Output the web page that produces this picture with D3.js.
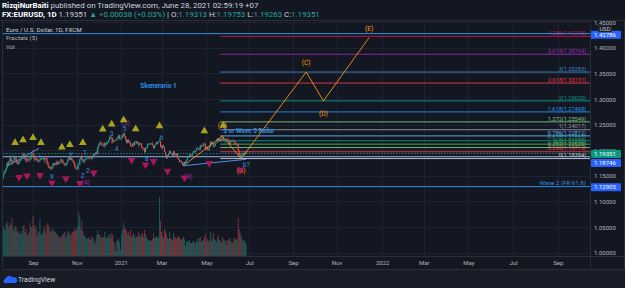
<!DOCTYPE html>
<html><head><meta charset="utf-8">
<script src="https://cdn.jsdelivr.net/npm/d3@7"></script>
<style>
html,body{margin:0;padding:0;background:#131722;}
svg{display:block;font-family:Roboto,"Liberation Sans",sans-serif;}
</style></head><body>
<svg id="chart" width="625" height="288"></svg>
<script>
// EUR/USD daily, FXCM. one value per weekday starting 2020-07-20
const START_DATE = '2020-07-20';
const closes = [
  1.1443,1.1526,1.1568,1.1595,1.1656, 1.1750,1.1716,1.1790,1.1846,1.1778,
  1.1763,1.1800,1.1850,1.1876,1.1787, 1.1737,1.1740,1.1785,1.1814,1.1842,
  1.1870,1.1930,1.1835,1.1860,1.1795, 1.1795,1.1836,1.1831,1.1822,1.1903,
  1.1935,1.1913,1.1854,1.1820,1.1838, 1.1815,1.1778,1.1802,1.1813,1.1845,
  1.1845,1.1845,1.1815,1.1845,1.1840, 1.1770,1.1702,1.1657,1.1671,1.1633,
  1.1667,1.1743,1.1720,1.1748,1.1715, 1.1781,1.1735,1.1760,1.1758,1.1825,
  1.1810,1.1745,1.1746,1.1706,1.1717, 1.1767,1.1827,1.1862,1.1812,1.1857,
  1.1809,1.1793,1.1746,1.1676,1.1644, 1.1640,1.1715,1.1720,1.1825,1.1875,
  1.1815,1.1779,1.1780,1.1830,1.1833, 1.1855,1.1862,1.1847,1.1873,1.1856,
  1.1843,1.1890,1.1925,1.1916,1.1960, 1.1927,1.2070,1.2115,1.2145,1.2120,
  1.2105,1.2105,1.2080,1.2135,1.2110, 1.2145,1.2155,1.2200,1.2268,1.2255,
  1.2240,1.2165,1.2190,1.2185,1.2190, 1.2215,1.2250,1.2295,1.2215,1.2225,
  1.2255,1.2295,1.2327,1.2270,1.2220, 1.2150,1.2205,1.2155,1.2155,1.2080,
  1.2075,1.2130,1.2105,1.2165,1.2170, 1.2140,1.2160,1.2110,1.2125,1.2135,
  1.2060,1.2040,1.2035,1.1965,1.2045, 1.2050,1.2120,1.2120,1.2130,1.2120,
  1.2130,1.2100,1.2040,1.2090,1.2120, 1.2155,1.2150,1.2165,1.2175,1.2075,
  1.2045,1.2090,1.2065,1.1970,1.1915, 1.1845,1.1900,1.1930,1.1985,1.1950,
  1.1930,1.1900,1.1975,1.1915,1.1905, 1.1935,1.1850,1.1815,1.1775,1.1795,
  1.1765,1.1715,1.1730,1.1775,1.1763, 1.1815,1.1870,1.1870,1.1915,1.1900,
  1.1910,1.1945,1.1980,1.1965,1.1985, 1.2035,1.2035,1.2035,1.2015,1.2095,
  1.2085,1.2090,1.2130,1.2125,1.2020, 1.2060,1.2015,1.2005,1.2065,1.2165,
  1.2130,1.2150,1.2075,1.2080,1.2145, 1.2155,1.2225,1.2175,1.2225,1.2180,
  1.2215,1.2250,1.2190,1.2195,1.2195, 1.2225,1.2215,1.2210,1.2125,1.2165,
  1.2190,1.2175,1.2180,1.2175,1.2105, 1.2120,1.2125,1.1995,1.1905,1.1860,
  1.1915,1.1940,1.1925,1.1935,1.1935, 1.19351
];
const highs = [
  1.1468,1.1540,1.1601,1.1627,1.1660, 1.1776,1.1780,1.1806,1.1908,1.1868,
  1.1810,1.1810,1.1916,1.1880,1.1885, 1.1810,1.1806,1.1799,1.1830,1.1865,
  1.1884,1.1966,1.1943,1.1880,1.1863, 1.1840,1.1846,1.1850,1.1900,1.1916,
  1.1947,1.2011,1.1925,1.1866,1.1855, 1.1852,1.1835,1.1830,1.1917,1.1851,
  1.1875,1.1870,1.1880,1.1850,1.1872, 1.1865,1.1780,1.1720,1.1688,1.1686,
  1.1683,1.1755,1.1754,1.1760,1.1765, 1.1800,1.1806,1.1777,1.1780,1.1831,
  1.1830,1.1818,1.1770,1.1752,1.1738, 1.1780,1.1840,1.1880,1.1870,1.1860,
  1.1861,1.1836,1.1805,1.1760,1.1681, 1.1663,1.1745,1.1770,1.1830,1.1890,
  1.1920,1.1842,1.1823,1.1835,1.1850, 1.1893,1.1895,1.1892,1.1885,1.1885,
  1.1905,1.1901,1.1941,1.1940,1.1965, 1.2003,1.2078,1.2122,1.2177,1.2172,
  1.2166,1.2145,1.2140,1.2165,1.2155, 1.2178,1.2175,1.2212,1.2273,1.2272,
  1.2250,1.2245,1.2200,1.2210,1.2198, 1.2250,1.2275,1.2310,1.2298,1.2235,
  1.2310,1.2305,1.2349,1.2345,1.2285, 1.2220,1.2210,1.2222,1.2190,1.2160,
  1.2095,1.2145,1.2155,1.2185,1.2180, 1.2190,1.2175,1.2165,1.2145,1.2150,
  1.2145,1.2076,1.2050,1.2055,1.2050, 1.2069,1.2127,1.2150,1.2135,1.2142,
  1.2145,1.2170,1.2110,1.2093,1.2144, 1.2169,1.2180,1.2180,1.2243,1.2185,
  1.2113,1.2093,1.2115,1.2070,1.1975, 1.1915,1.1907,1.1938,1.1990,1.1990,
  1.1952,1.1942,1.1985,1.1989,1.1925, 1.1942,1.1943,1.1855,1.1830,1.1800,
  1.1796,1.1770,1.1743,1.1777,1.1785, 1.1820,1.1882,1.1883,1.1927,1.1915,
  1.1935,1.1950,1.1990,1.1993,1.1995, 1.2050,1.2079,1.2044,1.2070,1.2103,
  1.2117,1.2100,1.2137,1.2150,1.2140, 1.2080,1.2075,1.2045,1.2080,1.2171,
  1.2180,1.2182,1.2151,1.2090,1.2147, 1.2168,1.2245,1.2227,1.2245,1.2240,
  1.2230,1.2266,1.2255,1.2210,1.2207, 1.2230,1.2254,1.2220,1.2215,1.2185,
  1.2198,1.2197,1.2218,1.2190,1.2180, 1.2133,1.2145,1.2135,1.2005,1.1907,
  1.1922,1.1955,1.1950,1.1955,1.1975, 1.19753
];
const lows = [
  1.1403,1.1432,1.1512,1.1540,1.1580, 1.1640,1.1699,1.1707,1.1762,1.1762,
  1.1707,1.1744,1.1784,1.1830,1.1755, 1.1728,1.1711,1.1720,1.1766,1.1790,
  1.1823,1.1860,1.1823,1.1802,1.1753, 1.1769,1.1780,1.1790,1.1762,1.1818,
  1.1878,1.1902,1.1800,1.1789,1.1780, 1.1798,1.1765,1.1752,1.1780,1.1800,
  1.1818,1.1822,1.1768,1.1737,1.1820, 1.1730,1.1687,1.1650,1.1627,1.1612,
  1.1627,1.1662,1.1685,1.1715,1.1696, 1.1708,1.1732,1.1719,1.1741,1.1750,
  1.1793,1.1738,1.1727,1.1689,1.1700, 1.1702,1.1762,1.1816,1.1803,1.1800,
  1.1800,1.1760,1.1718,1.1650,1.1622, 1.1615,1.1636,1.1603,1.1713,1.1812,
  1.1805,1.1775,1.1746,1.1750,1.1806, 1.1813,1.1830,1.1830,1.1815,1.1838,
  1.1800,1.1830,1.1880,1.1900,1.1905, 1.1920,1.1923,1.2040,1.2105,1.2090,
  1.2080,1.2096,1.2060,1.2045,1.2085, 1.2106,1.2122,1.2148,1.2196,1.2222,
  1.2130,1.2130,1.2150,1.2167,1.2178, 1.2190,1.2210,1.2244,1.2205,1.2205,
  1.2210,1.2240,1.2265,1.2250,1.2165, 1.2130,1.2131,1.2140,1.2130,1.2070,
  1.2055,1.2075,1.2063,1.2094,1.2140, 1.2117,1.2114,1.2057,1.2080,1.2107,
  1.2040,1.2004,1.2012,1.1952,1.1960, 1.2027,1.2045,1.2110,1.2100,1.2105,
  1.2108,1.2090,1.2022,1.2036,1.2082, 1.2115,1.2118,1.2110,1.2160,1.2063,
  1.2022,1.2012,1.2052,1.1960,1.1893, 1.1835,1.1837,1.1880,1.1921,1.1928,
  1.1915,1.1888,1.1885,1.1900,1.1873, 1.1889,1.1840,1.1812,1.1762,1.1770,
  1.1759,1.1704,1.1704,1.1730,1.1748, 1.1756,1.1790,1.1850,1.1862,1.1870,
  1.1868,1.1878,1.1940,1.1955,1.1945, 1.1985,1.2016,1.2005,1.1995,1.2003,
  1.2055,1.2059,1.2068,1.2108,1.2015, 1.2020,1.1999,1.1987,1.1995,1.2050,
  1.2118,1.2105,1.2050,1.2052,1.2078, 1.2128,1.2150,1.2160,1.2172,1.2160,
  1.2170,1.2203,1.2182,1.2175,1.2133, 1.2192,1.2205,1.2165,1.2105,1.2104,
  1.2155,1.2160,1.2168,1.2145,1.2093, 1.2090,1.2095,1.1985,1.1890,1.1847,
  1.1845,1.1871,1.1915,1.1905,1.1910, 1.19263
];
const volumes = [
  28,30,27,26,32, 34,30,28,33,31, 38,27,25,30,29, 24,26,23,22,25,
  22,30,31,24,27, 22,21,24,33,29, 28,40,31,27,30, 20,25,23,37,22,
  21,24,29,26,23, 31,33,29,25,24, 26,27,25,24,23, 22,21,18,19,20,
  19,22,23,24,18, 21,25,24,22,20, 23,24,25,28,26, 26,30,44,39,27,
  35,25,21,20,18, 17,18,19,17,16, 20,18,17,12,15, 21,26,22,21,19,
  18,19,18,24,19, 18,19,21,22,18, 23,21,15,12,5, 15,16,17,14,6,
  22,26,33,28,27, 25,22,24,20,26, 19,21,23,21,18, 20,19,24,21,19,
  22,23,19,26,22, 18,17,16,15,16, 15,17,23,18,19, 20,18,19,59,35,
  24,20,18,27,25, 22,18,17,24,18, 17,16,23,20,18, 17,19,20,18,17,
  16,18,19,17,10, 14,15,14,16,13, 13,14,15,14,12, 15,17,14,18,19,
  14,15,16,19,22, 15,17,14,16,24, 15,18,23,17,16, 14,18,21,16,15,
  13,19,17,15,16, 11,16,15,18,17, 14,13,15,18,17, 16,17,38,27,23,
  20,17,15,16,14, 12
];
const priceTicks = [1.00, 1.05, 1.10, 1.15, 1.20, 1.25, 1.30, 1.35, 1.40, 1.45];
const lastPrice = 1.19351;

// fib extension
const fibZero = 1.18384, fibOne = 1.24017, fibStart = '2021-05-21';
const fibLevels = [0, 0.236, 0.382, 0.5, 0.618, 0.786, 1, 1.272, 1.618, 2, 2.618, 3, 3.618, 4.236];
const fibColors = ['#d1d4dc','#f23645','#81c784','#4caf50','#089981','#64b5f6','#9598a1','#81c784','#2196f3','#089981','#f23645','#3f86c7','#9c27b0','#c2185b'];

// horizontal lines
const hLinePrices = [1.42786, 1.18746, 1.12905];
const hLineTexts = ['', '', 'Wave 2 (FR 61.8)'];

// fractals
const upFractalDates = ['2020-08-06','2020-08-18','2020-09-01','2020-09-11','2020-10-12','2020-10-22','2020-11-10','2020-12-08','2020-12-21','2021-01-06','2021-01-22','2021-02-25','2021-04-29','2021-05-26'];
const upFractalPrices = [1.2148,1.2201,1.2246,1.2148,1.2059,1.2109,1.2148,1.2410,1.2508,1.2592,1.2416,1.2475,1.2377,1.2484];
const downFractalDates = ['2020-08-12','2020-08-24','2020-09-10','2020-09-28','2020-10-16','2020-11-05','2020-11-25','2021-01-18','2021-02-05','2021-02-17','2021-03-09','2021-04-01','2021-05-06','2021-06-18'];
const downFractalPrices = [1.1473,1.1504,1.1512,1.1367,1.1445,1.1355,1.1563,1.1811,1.1719,1.1785,1.1596,1.1465,1.1746,1.1615];

// drawings
const wavePathDates = ['2021-03-31','2021-05-25','2021-06-21','2021-09-20','2021-10-13','2021-12-15'];
const wavePathPrices = [1.1699, 1.2279, 1.18384, 1.35283, 1.2965, 1.4200];
const trendLines = [
  [['2020-07-24', 1.1680], ['2020-09-09', 1.2039]],
  [['2021-03-31', 1.1699], ['2021-06-28', 1.1824]]
];
const labelTexts = ['X','Y','Z','(4)','1','2','3','4','5','(5)','a','b','c','(4)','(A)','(B)','b?','(C)','(D)','(E)','3 or Wave 5 Failur','Skenerario 1'];
const labelDates = ['2020-09-28','2020-10-23','2020-11-10','2020-11-13','2020-11-12','2020-11-17','2020-12-21','2020-12-28','2021-01-07','2021-01-08','2021-02-08','2021-03-01','2021-04-01','2021-04-07','2021-05-25','2021-06-21','2021-06-28','2021-09-20','2021-10-13','2021-12-15','2021-05-26','2021-02-24'];
const labelPrices = [1.1492,1.1922,1.1504,1.1361,1.1961,1.1602,1.2318,1.2025,1.2430,1.2539,1.1830,1.2254,1.1732,1.1484,1.2480,1.1602,1.1727,1.3705,1.2723,1.4383,1.2377,1.3256];
const labelKinds = ['b','b','b','p','b','b','b','b','b','p','b','b','b','p','o','o','b','o','o','o','b','b'];

const kindColor = {b: '#2f8ee0', p: '#9c27b0', o: '#ff9800'};
const UP = '#26a69a', DOWN = '#ef5350';

const parse = d3.utcParse('%Y-%m-%d');
const weekdays = d3.utcDay.range(parse(START_DATE), parse('2022-11-01'))
  .filter(d => d.getUTCDay() !== 0 && d.getUTCDay() !== 6);
const idxOf = s => d3.bisectLeft(weekdays, parse(s));

const svg = d3.select('#chart');
const paneL = 3, paneR = 590, paneT = 21, paneB = 256;

// bar index -> px, price -> px
const x = d3.scaleLinear().domain([31, 292, 553]).range([33, 293, 557.7]);
const y = d3.scaleLinear().domain([1.0, 1.45]).range([252.7, 22.3]);
const yVol = d3.scaleLinear().domain([0, 60]).range([paneB, paneB - 60]);

svg.append('rect').attr('width', 625).attr('height', 288).attr('fill', '#131722');

svg.append('defs').append('clipPath').attr('id', 'pane')
  .append('rect').attr('x', paneL).attr('y', paneT).attr('width', paneR - paneL).attr('height', paneB - paneT);

// header
const head = svg.append('g').attr('font-size', 7.9);
const h1 = head.append('text').attr('x', 2).attr('y', 8.4).attr('fill', '#d1d4dc');
h1.append('tspan').attr('font-weight', 'bold').attr('fill', '#fff').text('RizqiNurBaiti');
h1.append('tspan').text(' published on TradingView.com, June 28, 2021 02:59:19 +07');
const h2 = head.append('text').attr('x', 2).attr('y', 16.8).attr('fill', '#d1d4dc');
h2.append('tspan').attr('font-weight', 'bold').attr('fill', '#fff').text('FX:EURUSD, 1D');
h2.append('tspan').text('  1.19351 ');
h2.append('tspan').attr('fill', UP).text('\u25B2 +0.00038 (+0.03%)');
[['O:', '1.19313'], ['H:', '1.19753'], ['L:', '1.19263'], ['C:', '1.19351']].forEach(([k, v], i) => {
  h2.append('tspan').text((i === 0 ? ' | ' : ' ') + k);
  h2.append('tspan').attr('fill', UP).text(v);
});

// frame
svg.append('line').attr('x1', 0).attr('x2', 625).attr('y1', paneT - 0.5).attr('y2', paneT - 0.5).attr('stroke', '#2a2e39');
svg.append('rect').attr('x', paneL - 0.5).attr('y', paneT - 0.5).attr('width', 625 - paneL).attr('height', 270 - paneT)
  .attr('fill', 'none').attr('stroke', '#2a2e39');
svg.append('line').attr('x1', paneL).attr('x2', 625).attr('y1', paneB + 0.5).attr('y2', paneB + 0.5).attr('stroke', '#2a2e39');
svg.append('line').attr('x1', paneR + 0.5).attr('x2', paneR + 0.5).attr('y1', paneT).attr('y2', 270).attr('stroke', '#2a2e39');
svg.append('rect').attr('x', 0).attr('y', 270).attr('width', 625).attr('height', 18).attr('fill', '#181c27');

// time ticks
const monthStarts = d3.utcMonth.range(parse('2020-09-01'), parse('2022-10-01'), 2);
const tickIdx = monthStarts.map(d => d3.bisectLeft(weekdays, d));
const tickLabel = monthStarts.map(d => d.getUTCMonth() === 0 ? d3.utcFormat('%Y')(d) : d3.utcFormat('%b')(d));

const pane = svg.append('g').attr('clip-path', 'url(#pane)');
const grid = pane.append('g').attr('stroke', '#1f2330').attr('stroke-width', 1);
grid.selectAll('.gx').data(tickIdx).join('line')
  .attr('x1', d => Math.round(x(d)) + 0.5).attr('x2', d => Math.round(x(d)) + 0.5)
  .attr('y1', paneT).attr('y2', paneB);
grid.selectAll('.gy').data(priceTicks).join('line')
  .attr('x1', paneL).attr('x2', paneR)
  .attr('y1', d => Math.round(y(d)) + 0.5).attr('y2', d => Math.round(y(d)) + 0.5);

// candle records
const bars = closes.map((c, i) => ({
  i, c, h: highs[i], l: lows[i], o: i === 0 ? 1.1425 : closes[i - 1], v: volumes[i]
}));

// volume
pane.append('g').selectAll('rect').data(bars).join('rect')
  .attr('x', d => x(d.i) - 0.5).attr('width', 1)
  .attr('y', d => yVol(d.v)).attr('height', d => paneB - yVol(d.v))
  .attr('fill', d => d.c >= d.o ? UP : DOWN).attr('fill-opacity', 0.45);

// fib extension lines
const fibRange = fibOne - fibZero;
const fibG = pane.append('g');
const fx0 = x(idxOf(fibStart));
fibLevels.forEach((lv, k) => {
  const p = fibZero + lv * fibRange;
  fibG.append('line').attr('x1', fx0).attr('x2', paneR)
    .attr('y1', y(p)).attr('y2', y(p)).attr('stroke', fibColors[k]).attr('stroke-width', 0.9);
  fibG.append('text').attr('x', 586).attr('y', y(p) - 1.3).attr('text-anchor', 'end')
    .attr('font-size', 5.6).attr('fill', fibColors[k])
    .text(`${lv}(${p.toFixed(5)})`);
});

// full width horizontal lines
hLinePrices.forEach((p, k) => {
  pane.append('line').attr('x1', paneL).attr('x2', paneR).attr('y1', y(p)).attr('y2', y(p))
    .attr('stroke', k === 1 ? '#8fb8e8' : '#2f8ee0').attr('stroke-width', 1);
  if (hLineTexts[k]) {
    pane.append('text').attr('x', 586).attr('y', y(p) - 2).attr('text-anchor', 'end')
      .attr('font-size', 6.2).attr('fill', '#2f8ee0').text(hLineTexts[k]);
  }
});
pane.append('line').attr('x1', paneL).attr('x2', paneR).attr('y1', y(lastPrice)).attr('y2', y(lastPrice))
  .attr('stroke', UP).attr('stroke-width', 0.8).attr('stroke-dasharray', '1.5,1.5');

// trend lines
trendLines.forEach(seg => {
  pane.append('line')
    .attr('x1', x(idxOf(seg[0][0]))).attr('y1', y(seg[0][1]))
    .attr('x2', x(idxOf(seg[1][0]))).attr('y2', y(seg[1][1]))
    .attr('stroke', '#5b9cf6').attr('stroke-width', 0.9);
});

// candles
const cg = pane.append('g');
cg.selectAll('line').data(bars).join('line')
  .attr('x1', d => x(d.i)).attr('x2', d => x(d.i))
  .attr('y1', d => y(Math.max(d.h, d.o, d.c))).attr('y2', d => y(Math.min(d.l, d.o, d.c)))
  .attr('stroke', d => d.c >= d.o ? UP : DOWN).attr('stroke-width', 0.5);
cg.selectAll('rect').data(bars).join('rect')
  .attr('x', d => x(d.i) - 0.5).attr('width', 1)
  .attr('y', d => y(Math.max(d.o, d.c)))
  .attr('height', d => Math.max(0.5, Math.abs(y(d.o) - y(d.c))))
  .attr('fill', d => d.c >= d.o ? UP : DOWN);

// orange wave path
const line = d3.line().x(d => x(idxOf(d[0]))).y(d => y(d[1]));
pane.append('path').datum(wavePathDates.map((d, i) => [d, wavePathPrices[i]]))
  .attr('d', line).attr('fill', 'none').attr('stroke', '#f7931a').attr('stroke-width', 0.9);

// labels
pane.append('g').selectAll('text').data(labelTexts).join('text')
  .attr('x', (d, i) => x(idxOf(labelDates[i])))
  .attr('y', (d, i) => y(labelPrices[i]))
  .attr('dy', '0.35em')
  .attr('text-anchor', d => d.length > 4 ? (d[0] === '3' ? 'start' : 'middle') : 'middle')
  .attr('font-size', d => d.length > 4 ? 6.4 : 6.6)
  .attr('font-weight', d => d.length > 4 ? 'bold' : 'normal')
  .attr('fill', (d, i) => kindColor[labelKinds[i]])
  .text(d => d);

// fractals
const tri = d3.symbol(d3.symbolTriangle, 26);
pane.append('g').selectAll('path').data(upFractalDates).join('path')
  .attr('d', tri).attr('fill', '#a8a51d')
  .attr('transform', (d, i) => `translate(${x(idxOf(d))},${y(upFractalPrices[i])})`);
pane.append('g').selectAll('path').data(downFractalDates).join('path')
  .attr('d', tri).attr('fill', '#a8175c')
  .attr('transform', (d, i) => `translate(${x(idxOf(d))},${y(downFractalPrices[i])}) rotate(180)`);

// legend
const leg = svg.append('g').attr('font-size', 6.2);
leg.append('text').attr('x', 6).attr('y', 31.5).attr('fill', '#d1d4dc').text('Euro / U.S. Dollar, 1D, FXCM');
leg.append('text').attr('x', 6).attr('y', 40.3).attr('fill', '#b2b5be').text('Fractals (5)');
leg.append('text').attr('x', 6).attr('y', 48.8).attr('fill', '#b2b5be').text('Vol');

// axes
const xAxis = svg.append('g').attr('transform', `translate(0,${paneB})`)
  .call(d3.axisBottom(x).tickValues(tickIdx).tickFormat((d, i) => tickLabel[i]).tickSize(0).tickPadding(4.5));
xAxis.select('.domain').remove();
xAxis.selectAll('text').attr('font-size', 6).attr('fill', '#b2b5be').attr('font-family', 'Roboto, sans-serif');

const yAxis = svg.append('g').attr('transform', `translate(${paneR},0)`)
  .call(d3.axisRight(y).tickValues(priceTicks).tickFormat(d3.format('.5f')).tickSize(0).tickPadding(4));
yAxis.select('.domain').remove();
yAxis.selectAll('text').attr('font-size', 6).attr('fill', '#b2b5be').attr('font-family', 'Roboto, sans-serif');

// price tags on axis
const tags = [[1.42786, y(1.42786) + 1, '#2962ff'], [lastPrice, y(lastPrice) + 0.5, '#089981'], [1.18746, 163, '#2962ff'], [1.12905, 187.3, '#2962ff']];
tags.forEach(([p, cy, col]) => {
  svg.append('rect').attr('x', paneR + 1).attr('y', cy - 4).attr('width', 30).attr('height', 8).attr('fill', col).attr('rx', 1);
  svg.append('text').attr('x', paneR + 4).attr('y', cy).attr('dy', '0.35em').attr('font-size', 6)
    .attr('fill', '#fff').text(p.toFixed(5));
});
svg.append('rect').attr('x', 598.5).attr('y', 25.5).attr('width', 13).attr('height', 6.5)
  .attr('fill', '#131722').attr('stroke', '#434651').attr('stroke-width', 0.5);
svg.append('text').attr('x', 605).attr('y', 28.8).attr('dy', '0.35em').attr('text-anchor', 'middle')
  .attr('font-size', 5.6).attr('fill', '#d1d4dc').text('USD');

// footer logo
const logo = svg.append('g').attr('transform', 'translate(3,275)');
logo.append('path').attr('d', 'M1,8 A3,3 0 0 1 2.5,3.5 A4,4 0 0 1 9.5,2.5 A3,3 0 0 1 12.5,8 Z').attr('fill', '#2962ff');
svg.append('text').attr('x', 18).attr('y', 279.5).attr('dy', '0.35em').attr('font-size', 6.8)
  .attr('fill', '#d1d4dc').text('TradingView');
</script>
</body></html>
